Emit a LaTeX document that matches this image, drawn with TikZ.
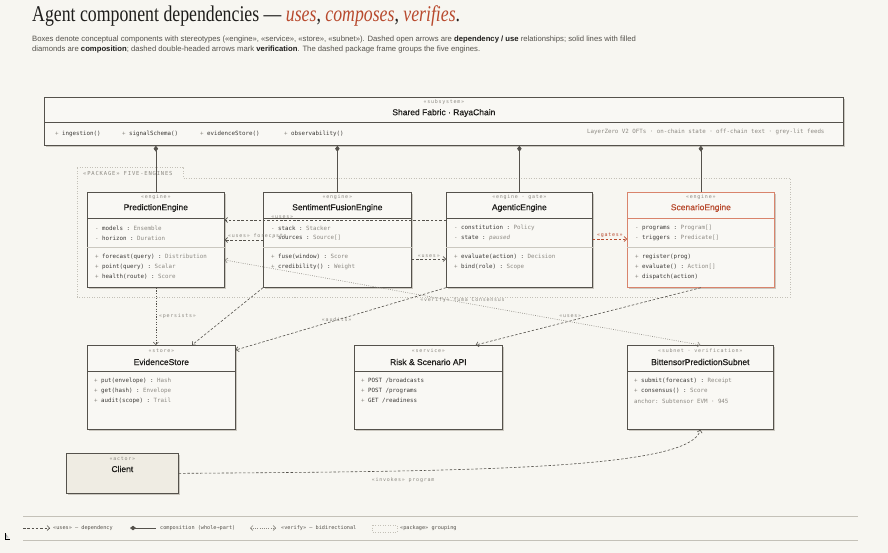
\documentclass[tikz,border=0pt]{standalone}
\usepackage{fontspec}
\setmainfont{Liberation Sans}
\setmonofont{DejaVu Sans Mono}
\newfontfamily\titlefont[FakeStretch=0.79]{Liberation Serif}
\newfontfamily\namefont[FakeBold=0.6]{Liberation Sans}
\newfontfamily\stereofont[LetterSpace=15]{DejaVu Sans Mono}
\usepackage{xcolor}
\usetikzlibrary{arrows.meta,positioning,calc,shadows}

\definecolor{paper}{HTML}{F7F6F1}
\definecolor{boxfill}{HTML}{F9F8F4}
\definecolor{ink}{HTML}{1F1E1C}
\definecolor{rule}{HTML}{55524C}
\definecolor{memb}{HTML}{3A3835}
\definecolor{faint}{HTML}{8C8982}
\definecolor{shade}{HTML}{CBC8C0}
\definecolor{accent}{HTML}{B84A2E}
\definecolor{accentline}{HTML}{D9846C}
\definecolor{clientfill}{HTML}{EFECE3}
\definecolor{pkgline}{HTML}{C4C1B8}
\newcommand{\ty}[1]{\textcolor{faint}{#1}}

\begin{document}
\begin{tikzpicture}[x=1pt,y=-1pt,
  umlbox/.style={draw=rule, line width=0.7pt, fill=boxfill, anchor=north west, inner sep=0pt,
    drop shadow={shadow xshift=1.4pt, shadow yshift=-1.4pt, fill=shade, opacity=1}},
  stereo/.style={font=\stereofont\fontsize{5}{6}\selectfont, text=faint, inner sep=0pt},
  cname/.style={font=\namefont\fontsize{8.5}{10}\selectfont, text=ink, inner sep=0pt},
  member/.style={font=\ttfamily\fontsize{5.8}{7}\selectfont, text=memb, anchor=west, inner sep=0pt},
  divider/.style={draw=rule, line width=0.7pt},
  subdivider/.style={draw=shade, line width=0.6pt},
  tag/.style={font=\stereofont\fontsize{5}{6}\selectfont, text=faint, inner sep=1pt},
  legend/.style={font=\ttfamily\fontsize{5.2}{6}\selectfont, text=rule, anchor=west, inner sep=0pt},
  uses/.style={draw=rule, line width=0.6pt, dash pattern=on 2.5pt off 1.8pt,
    -{Straight Barb[length=2.5pt,width=5pt]}},
  verify/.style={draw=faint, line width=0.6pt, dash pattern=on 0.8pt off 1.4pt,
    {Straight Barb[length=2.5pt,width=5pt]}-{Straight Barb[length=2.5pt,width=5pt]}},
  comp/.style={draw=rule, line width=0.7pt, {Diamond[fill=rule,length=6pt,width=4.5pt]}-},
  pkg/.style={draw=pkgline, line width=0.6pt, dash pattern=on 1pt off 1.5pt}]

  % Page
  \useasboundingbox (0,0) rectangle (888,553);
  \fill[paper] (0,0) rectangle (888,553);

  % Title and caption
  \node[anchor=base west, inner sep=0pt] (title) at (32,22)
    {\titlefont\fontsize{22.5}{26}\selectfont\color{ink}Agent component dependencies —
     \textcolor{accent}{\itshape uses}, \textcolor{accent}{\itshape composes}, \textcolor{accent}{\itshape verifies}.};
  \node[anchor=base west, inner sep=0pt, font=\fontsize{7.7}{8}\selectfont, text=rule] (cap1) at (32,41.5)
    {Boxes denote conceptual components with stereotypes («engine», «service», «store», «subnet»). Dashed open arrows are \textcolor{ink}{\bfseries dependency / use} relationships; solid lines with filled};
  \node[anchor=base west, inner sep=0pt, font=\fontsize{7.7}{8}\selectfont, text=rule] (cap2) at (32,52)
    {diamonds are \textcolor{ink}{\bfseries composition}; dashed double-headed arrows mark \textcolor{ink}{\bfseries verification}. The dashed package frame groups the five engines.};

  % Package frame
  \draw[pkg] (77,297) -- (77,167) -- (183,167) -- (183,178) -- (790,178) -- (790,297) -- cycle;
  \node[anchor=west, inner sep=0pt, font=\stereofont\fontsize{5.5}{6}\selectfont, text=faint] (pkg-tag) at (83,173) {«PACKAGE» FIVE-ENGINES};

  % Shared fabric
  \node[umlbox, minimum width=799pt, minimum height=48pt] (sf) at (44,97) {};
  \node[stereo] (sf-st) at ($(sf.north)+(0,5)$) {«subsystem»};
  \node[cname] (sf-nm) at ($(sf.north)+(0,16)$) {Shared Fabric · RayaChain};
  \draw[divider] ($(sf.north west)+(0,25)$) -- ($(sf.north east)+(0,25)$);
  \node[member] (sf-m1) at (55,134) {\ty{+} ingestion()};
  \node[member] (sf-m2) at (122,134) {\ty{+} signalSchema()};
  \node[member] (sf-m3) at (200,134) {\ty{+} evidenceStore()};
  \node[member] (sf-m4) at (284,134) {\ty{+} observability()};
  \node[member, anchor=east, text=faint] (sf-note) at ($(sf.north east)+(-19,35)$)
    {LayerZero V2 OFTs · on-chain state · off-chain text · grey-lit feeds};

  % Engines
  \node[umlbox, minimum width=137pt, minimum height=95pt] (pe) at (87,192) {};
  \node[stereo] (pe-st) at ($(pe.north)+(0,5)$) {«engine»};
  \node[cname] (pe-nm) at ($(pe.north)+(0,16)$) {PredictionEngine};
  \draw[divider] ($(pe.north west)+(0,26)$) -- ($(pe.north east)+(0,26)$);
  \draw[subdivider] ($(pe.north west)+(0,55)$) -- ($(pe.north east)+(0,55)$);
  \foreach \m [count=\i] in {{\ty{-} models : \ty{Ensemble}},{\ty{-} horizon : \ty{Duration}}}
    \node[member] (pe-a\i) at ($(pe.north west)+(8,{26+10*\i})$) {\m};
  \foreach \m [count=\i] in {{\ty{+} forecast(query) : \ty{Distribution}},{\ty{+} point(query) : \ty{Scalar}},{\ty{+} health(route) : \ty{Score}}}
    \node[member] (pe-o\i) at ($(pe.north west)+(8,{55+10*\i})$) {\m};

  \node[umlbox, minimum width=148pt, minimum height=95pt] (sfe) at (263,192) {};
  \node[stereo] (sfe-st) at ($(sfe.north)+(0,5)$) {«engine»};
  \node[cname] (sfe-nm) at ($(sfe.north)+(0,16)$) {SentimentFusionEngine};
  \draw[divider] ($(sfe.north west)+(0,26)$) -- ($(sfe.north east)+(0,26)$);
  \draw[subdivider] ($(sfe.north west)+(0,55)$) -- ($(sfe.north east)+(0,55)$);
  \foreach \m [count=\i] in {{\ty{-} stack : \ty{Stacker}},{\ty{-} sources : \ty{Source[]}}}
    \node[member] (sfe-a\i) at ($(sfe.north west)+(8,{26+10*\i})$) {\m};
  \foreach \m [count=\i] in {{\ty{+} fuse(window) : \ty{Score}},{\ty{+} credibility() : \ty{Weight}}}
    \node[member] (sfe-o\i) at ($(sfe.north west)+(8,{55+10*\i})$) {\m};

  \node[umlbox, minimum width=146pt, minimum height=95pt] (ae) at (446,192) {};
  \node[stereo] (ae-st) at ($(ae.north)+(0,5)$) {«engine · gate»};
  \node[cname] (ae-nm) at ($(ae.north)+(0,16)$) {AgenticEngine};
  \draw[divider] ($(ae.north west)+(0,26)$) -- ($(ae.north east)+(0,26)$);
  \draw[subdivider] ($(ae.north west)+(0,55)$) -- ($(ae.north east)+(0,55)$);
  \foreach \m [count=\i] in {{\ty{-} constitution : \ty{Policy}},{\ty{-} state : \ty{\textit{paused}}}}
    \node[member] (ae-a\i) at ($(ae.north west)+(8,{26+10*\i})$) {\m};
  \foreach \m [count=\i] in {{\ty{+} evaluate(action) : \ty{Decision}},{\ty{+} bind(role) : \ty{Scope}}}
    \node[member] (ae-o\i) at ($(ae.north west)+(8,{55+10*\i})$) {\m};

  \node[umlbox, draw=accentline, minimum width=147pt, minimum height=95pt] (se) at (627,192) {};
  \node[stereo] (se-st) at ($(se.north)+(0,5)$) {«engine»};
  \node[cname, text=accent] (se-nm) at ($(se.north)+(0,16)$) {ScenarioEngine};
  \draw[divider, draw=accentline] ($(se.north west)+(0,26)$) -- ($(se.north east)+(0,26)$);
  \draw[subdivider] ($(se.north west)+(0,55)$) -- ($(se.north east)+(0,55)$);
  \foreach \m [count=\i] in {{\ty{-} programs : \ty{Program[]}},{\ty{-} triggers : \ty{Predicate[]}}}
    \node[member] (se-a\i) at ($(se.north west)+(8,{26+10*\i})$) {\m};
  \foreach \m [count=\i] in {{\ty{+} register(prog)},{\ty{+} evaluate() : \ty{Action[]}},{\ty{+} dispatch(action)}}
    \node[member] (se-o\i) at ($(se.north west)+(8,{55+10*\i})$) {\m};

  % Composition
  \foreach \e in {pe,sfe,ae,se}
    \draw[comp] (\e.north |- sf.south) -- (\e.north);

  % Lower row
  \node[umlbox, minimum width=148pt, minimum height=84pt] (es) at (87,345) {};
  \node[stereo] (es-st) at ($(es.north)+(0,6)$) {«store»};
  \node[cname] (es-nm) at ($(es.north)+(0,17)$) {EvidenceStore};
  \draw[divider] ($(es.north west)+(0,26)$) -- ($(es.north east)+(0,26)$);
  \foreach \m [count=\i] in {{\ty{+} put(envelope) : \ty{Hash}},{\ty{+} get(hash) : \ty{Envelope}},{\ty{+} audit(scope) : \ty{Trail}}}
    \node[member] (es-o\i) at ($(es.north west)+(7,{26+10*\i})$) {\m};

  \node[umlbox, minimum width=148pt, minimum height=84pt] (rsa) at (354,345) {};
  \node[stereo] (rsa-st) at ($(rsa.north)+(0,6)$) {«service»};
  \node[cname] (rsa-nm) at ($(rsa.north)+(0,17)$) {Risk \& Scenario API};
  \draw[divider] ($(rsa.north west)+(0,26)$) -- ($(rsa.north east)+(0,26)$);
  \foreach \m [count=\i] in {{\ty{+} POST /broadcasts},{\ty{+} POST /programs},{\ty{+} GET /readiness}}
    \node[member] (rsa-o\i) at ($(rsa.north west)+(7,{26+10*\i})$) {\m};

  \node[umlbox, minimum width=146pt, minimum height=84pt] (bps) at (627,345) {};
  \node[stereo] (bps-st) at ($(bps.north)+(0,6)$) {«subnet · verification»};
  \node[cname] (bps-nm) at ($(bps.north)+(0,17)$) {BittensorPredictionSubnet};
  \draw[divider] ($(bps.north west)+(0,26)$) -- ($(bps.north east)+(0,26)$);
  \foreach \m [count=\i] in {{\ty{+} submit(forecast) : \ty{Receipt}},{\ty{+} consensus() : \ty{Score}},{\ty{anchor: Subtensor EVM · 945}}}
    \node[member] (bps-o\i) at ($(bps.north west)+(7,{26+10*\i})$) {\m};

  \node[umlbox, fill=clientfill, minimum width=112pt, minimum height=40pt] (client) at (66,453) {};
  \node[stereo] (client-st) at ($(client.north)+(0,6)$) {«actor»};
  \node[cname] (client-nm) at ($(client.north)+(0,16)$) {Client};

  % Dependencies
  \draw[uses] ($(ae.north west)+(0,28)$) -- node[tag, above, pos=0.74] (l-uses1) {«uses»} ($(pe.north east)+(0,28)$);
  \draw[uses] ($(sfe.north west)+(0,48)$) -- ($(pe.north east)+(0,48)$)
    node[tag, anchor=south west, xshift=2pt, yshift=1pt] (l-fc) {«uses» forecasts};
  \draw[uses] ($(sfe.north east)+(0,67)$) -- node[tag, above] (l-uses2) {«uses»} ($(ae.north west)+(0,67)$);
  \draw[uses, draw=accent] ($(ae.north east)+(0,47)$) -- node[tag, above, text=accent] (l-gates) {«gates»} ($(se.north west)+(0,47)$);
  \draw[verify] ($(pe.north east)+(0,68)$) -- node[tag, above, inner sep=0pt] (l-verify) {«verify» Yuma Consensus} (bps.north);
  \draw[uses, dash pattern=on 1.2pt off 1.4pt] (pe.south) -- node[tag, right=2pt] (l-persists) {«persists»} (pe.south |- es.north);
  \draw[uses] (sfe.south west) -- ($(es.north west)+(105,0)$);
  \draw[uses] (ae.south west) -- node[tag, pos=0.52, inner sep=0pt] (l-audits) {«audits»} ($(es.north east)+(0,5)$);
  \draw[uses] (se.south) -- node[tag, pos=0.58, above=2pt] (l-uses3) {«uses»} ($(rsa.north east)+(-27,0)$);
  \draw[uses] (client.east) .. controls +(290,-2) and +(-10,40) .. (bps.south)
    node[tag, pos=0.28, below=5pt] (l-invokes) {«invokes» program};

  % Legend
  \draw[pkgline, line width=0.8pt] (23,516) -- (858,516);
  \draw[pkgline, line width=0.8pt] (23,540) -- (858,540);
  \draw[shade, line width=0.6pt] (5,533) -- (5,539) -- (10,539);
  \coordinate (lg-u1) at (23,528);
  \coordinate (lg-u2) at (50,528);
  \draw[uses] (lg-u1) -- (lg-u2);
  \node[legend] (lg-ut) at (53,528) {«uses» — dependency};
  \coordinate (lg-c1) at (130,528);
  \coordinate (lg-c2) at (156,528);
  \draw[comp] (lg-c1) -- (lg-c2);
  \node[legend] (lg-ct) at (160,528) {composition (whole→part)};
  \coordinate (lg-v1) at (250,528);
  \coordinate (lg-v2) at (276,528);
  \draw[verify] (lg-v1) -- (lg-v2);
  \node[legend] (lg-vt) at (281,528) {«verify» — bidirectional};
  \draw[pkg] (372,525) rectangle (397,532);
  \node[legend] (lg-pt) at (400,528) {«package» grouping};
\end{tikzpicture}
\end{document}
